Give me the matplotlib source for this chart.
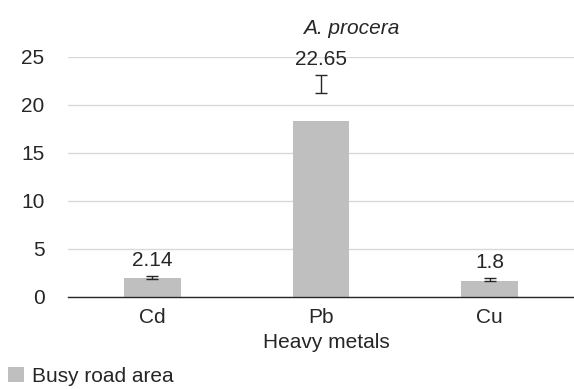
import matplotlib
matplotlib.use("Agg")
import matplotlib.pyplot as plt

metals = ["Cd", "Pb", "Cu"]
bar_heights = [2.0, 18.3, 1.7]
err_centers = [2.05, 22.2, 1.82]
err_sizes = [0.15, 0.95, 0.15]
value_labels = ["2.14", "22.65", "1.8"]
y_ticks = [0, 5, 10, 15, 20, 25]

plt.rcParams["font.family"] = ["Liberation Sans", "DejaVu Sans"]
fs = 15

fig = plt.figure(figsize=(5.74, 3.89), dpi=100)
ax = fig.add_axes([68 / 574, 1 - 297 / 389, 506 / 574, 240 / 389])

x = range(len(metals))
ax.bar(x, bar_heights, width=0.335, color="#bfbfbf", zorder=2,
       label="Busy road area")
ax.errorbar(x, err_centers, yerr=err_sizes, fmt="none", ecolor="#262626",
            elinewidth=1, capsize=4.5, capthick=1, zorder=3)
for i, lab in enumerate(value_labels):
    ax.text(i, err_centers[i] + err_sizes[i] + 0.65, lab, ha="center",
            va="bottom", fontsize=fs, color="#262626")

ax.set_xlim(-0.5, 2.5)
ax.set_ylim(0, 25)
ax.set_yticks(y_ticks)
ax.set_xticks(list(x))
ax.set_xticklabels(metals)
ax.tick_params(axis="y", length=0, labelsize=fs, colors="#262626", pad=17)
ax.tick_params(axis="x", length=0, labelsize=fs, colors="#262626", pad=8)
ax.grid(axis="y", color="#d9d9d9", linewidth=1, zorder=0)
for s in ["top", "right", "left"]:
    ax.spines[s].set_visible(False)
ax.spines["bottom"].set_color("#262626")
ax.spines["bottom"].set_linewidth(1)
ax.set_xlabel("Heavy metals", fontsize=fs, color="#262626", labelpad=2)
ax.xaxis.set_label_coords(258 / 506, -36 / 240)
ax.xaxis.label.set_va("top")

fig.text(351 / 574, 1 - 28 / 389, "A. procera", style="italic", fontsize=fs,
         ha="center", va="center", color="#262626")
ax.legend(loc="lower left", bbox_to_anchor=(-60 / 506, -89 / 240), frameon=False,
          fontsize=fs, handlelength=0.75, handleheight=0.75, handletextpad=0.4,
          borderaxespad=0, borderpad=0, labelcolor="#262626")

fig.savefig("out.png", dpi=100)
